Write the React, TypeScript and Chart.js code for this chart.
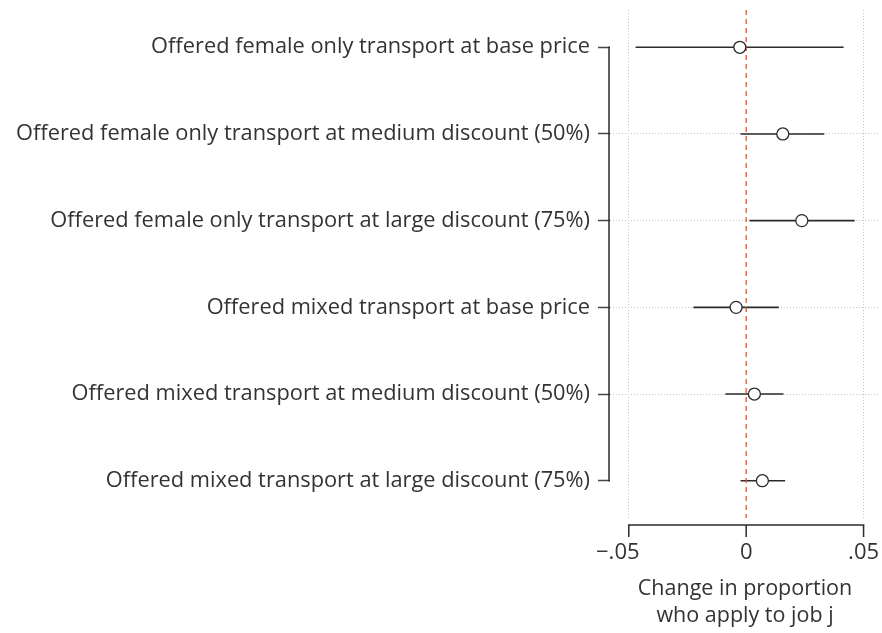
import React, { useEffect, useRef } from "react";
import { Chart, registerables } from "chart.js";

Chart.register(...registerables);

const rowLabels = [
  "Offered female only transport at base price",
  "Offered female only transport at medium discount (50%)",
  "Offered female only transport at large discount (75%)",
  "Offered mixed transport at base price",
  "Offered mixed transport at medium discount (50%)",
  "Offered mixed transport at large discount (75%)",
];
const estimates = [-0.0027, 0.0156, 0.0237, -0.0043, 0.0035, 0.0069];
const ciLow = [-0.0471, -0.0024, 0.0014, -0.0225, -0.0089, -0.0024];
const ciHigh = [0.0415, 0.0333, 0.0462, 0.0139, 0.0159, 0.0166];
const xTicks = [-0.05, 0, 0.05];
const xTickLabels = ["\u2212.05\u2002\u2002", "0", ".05"];
const xTitle = ["Change in proportion", "who apply to job j"];

const FONT = "'Open Sans', Lato, sans-serif";
const TEXT = "#333333";
const INK = "#2a2a2a";

const axesPlugin = {
  id: "stataAxes",
  afterDraw(chart: any) {
    const { ctx, scales, chartArea } = chart;
    const xs = scales.x;
    const ys = scales.y;
    ctx.save();
    ctx.strokeStyle = INK;
    ctx.lineWidth = 1.5;
    ctx.setLineDash([]);
    const yx = chartArea.left - 1;
    ctx.beginPath();
    ctx.moveTo(yx, ys.getPixelForValue(1) - 0.75);
    ctx.lineTo(yx, ys.getPixelForValue(rowLabels.length) + 0.75);
    ctx.stroke();
    const ay = chartArea.bottom + 7;
    const x0 = xs.getPixelForValue(xTicks[0]);
    const x1 = xs.getPixelForValue(xTicks[xTicks.length - 1]);
    ctx.beginPath();
    ctx.moveTo(x0 - 0.75, ay);
    ctx.lineTo(x1 + 0.75, ay);
    ctx.stroke();
    xTicks.forEach((v) => {
      const px = xs.getPixelForValue(v);
      ctx.beginPath();
      ctx.moveTo(px, ay);
      ctx.lineTo(px, ay + 12);
      ctx.stroke();
    });
    ctx.restore();
  },
};

export default function App() {
  const ref = useRef<HTMLCanvasElement | null>(null);
  useEffect(() => {
    if (!ref.current) return;
    const rows = rowLabels.map((_, i) => i + 1);
    const ciSets = rows.map((r, i) => ({
      type: "line" as const,
      data: [
        { x: ciLow[i], y: r },
        { x: ciHigh[i], y: r },
      ],
      borderColor: INK,
      borderWidth: 1.6,
      pointRadius: 0,
      order: 5,
    }));
    const chart = new Chart(ref.current, {
      type: "scatter",
      data: {
        datasets: [
          {
            type: "line",
            data: [
              { x: 0, y: 0.57 },
              { x: 0, y: 6.43 },
            ],
            borderColor: "#f0502a",
            borderWidth: 1.3,
            borderDash: [5, 4],
            pointRadius: 0,
            order: 3,
          } as any,
          ...ciSets,
          {
            type: "scatter",
            data: rows.map((r, i) => ({ x: estimates[i], y: r })),
            pointRadius: 6,
            pointBorderWidth: 1.3,
            pointBorderColor: INK,
            pointBackgroundColor: "#ffffff",
            order: 0,
          },
        ],
      },
      options: {
        animation: false,
        responsive: false,
        maintainAspectRatio: false,
        layout: { autoPadding: false, padding: { top: 10, right: 2, left: 0, bottom: 0 } },
        plugins: {
          legend: { display: false },
          tooltip: { enabled: false },
        },
        scales: {
          x: {
            type: "linear",
            min: -0.058,
            max: 0.057,
            afterBuildTicks: (s: any) => {
              s.ticks = xTicks.map((v) => ({ value: v }));
            },
            afterFit: (s: any) => {
              s.height = 115;
              s.paddingLeft = 0;
              s.paddingRight = 0;
            },
            grid: {
              drawTicks: false,
              color: (c: any) => (c.tick && c.tick.value === 0 ? "rgba(0,0,0,0)" : "#c4c4c4"),
              lineWidth: 1,
            },
            border: { display: false, dash: [1, 2] },
            ticks: {
              padding: 22,
              color: TEXT,
              font: { family: FONT, size: 22 },
              maxRotation: 0,
              callback: (v: any) => {
                const idx = xTicks.indexOf(Number(v));
                return idx >= 0 ? xTickLabels[idx] : "";
              },
            },
            title: {
              display: true,
              text: xTitle,
              color: TEXT,
              font: { family: FONT, size: 21.5, lineHeight: 1.25 },
              padding: { top: 0, bottom: 4 },
            },
          },
          y: {
            type: "linear",
            reverse: true,
            min: 0.57,
            max: 6.43,
            afterBuildTicks: (s: any) => {
              s.ticks = rows.map((v) => ({ value: v }));
            },
            afterFit: (s: any) => {
              s.width = 610;
              s.paddingTop = 0;
              s.paddingBottom = 0;
            },
            grid: {
              drawTicks: true,
              tickLength: 12,
              tickColor: "#444444",
              tickWidth: 1.5,
              color: (c: any) =>
                c.tick && (c.tick.value === 1 || c.tick.value === rowLabels.length)
                  ? "rgba(0,0,0,0)"
                  : "#c4c4c4",
              lineWidth: 1,
            },
            border: { display: false, dash: [1, 2] },
            ticks: {
              padding: 8,
              color: TEXT,
              font: { family: FONT, size: 21.8 },
              callback: (v: any) => {
                const i = Number(v) - 1;
                return rowLabels[i] ?? "";
              },
            },
          },
        },
      },
      plugins: [axesPlugin],
    } as any);
    return () => chart.destroy();
  }, []);
  return (
    <div style={{ position: "fixed", left: 0, top: 0, width: 882, height: 633, background: "#fff" }}>
      <canvas ref={ref} width={882} height={633} style={{ width: 882, height: 633, display: "block" }} />
    </div>
  );
}
